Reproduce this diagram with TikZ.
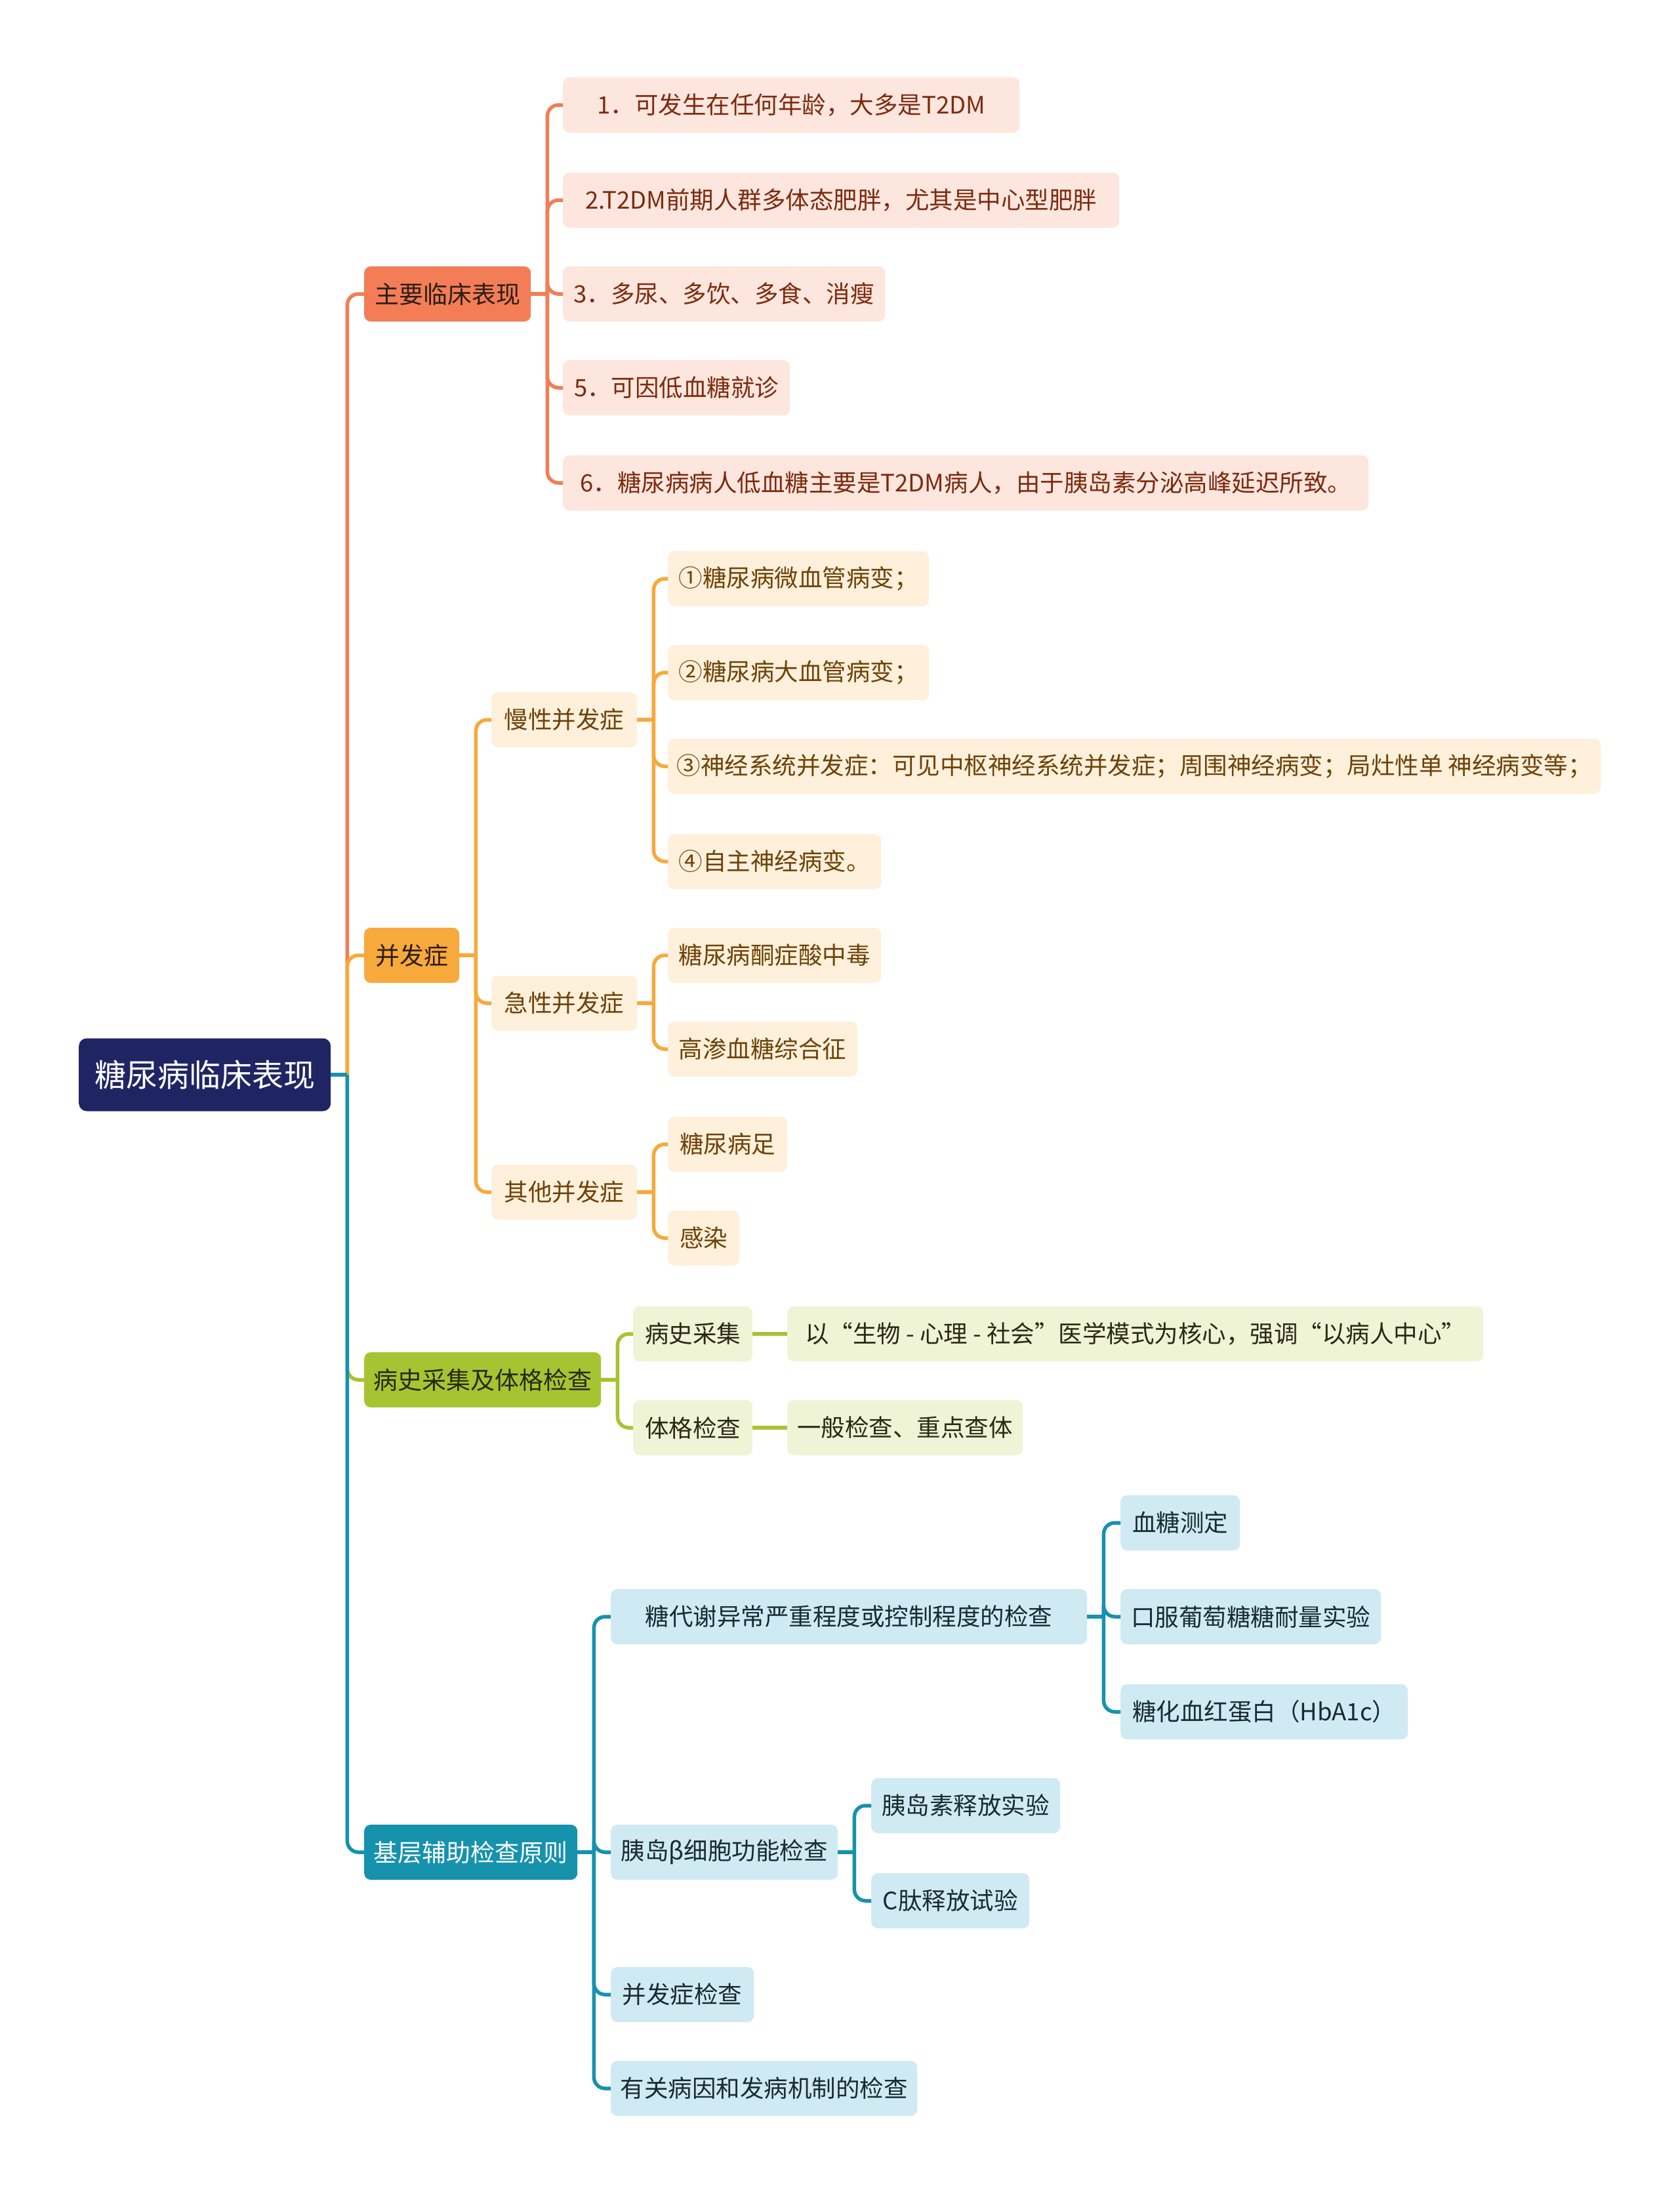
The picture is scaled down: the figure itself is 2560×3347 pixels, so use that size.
\documentclass[tikz,border=0pt]{standalone}
\usepackage{fontspec}
\setmainfont{Noto Sans CJK SC}
\usetikzlibrary{calc}
\definecolor{navy}{RGB}{31,37,99}
\definecolor{salmon}{RGB}{243,125,86}
\definecolor{salmonL}{RGB}{253,230,221}
\definecolor{salmonT}{RGB}{125,42,15}
\definecolor{amber}{RGB}{248,169,59}
\definecolor{amberL}{RGB}{254,240,219}
\definecolor{amberT}{RGB}{110,66,8}
\definecolor{lime}{RGB}{166,196,49}
\definecolor{limeL}{RGB}{239,244,214}
\definecolor{limeT}{RGB}{40,42,20}
\definecolor{teal}{RGB}{22,146,173}
\definecolor{tealL}{RGB}{207,234,242}
\definecolor{tealT}{RGB}{25,42,50}
\definecolor{darkT}{RGB}{45,30,20}
\tikzset{
  box/.style={rounded corners=10pt, minimum height=84pt, inner xsep=0pt, inner ysep=0pt, anchor=west, font=\fontsize{36.5}{42}\selectfont},
  lvone/.style={box, font=\fontsize{37}{42}\selectfont},
  rootbox/.style={rounded corners=12pt, minimum height=111pt, minimum width=384pt, inner xsep=0pt, anchor=west, fill=navy, text=white, font=\fontsize{48}{56}\selectfont},
  sbox/.style={box, fill=salmonL, text=salmonT},
  abox/.style={box, fill=amberL, text=amberT},
  gbox/.style={box, fill=limeL, text=limeT},
  tbox/.style={box, fill=tealL, text=tealT},
  lnS/.style={draw=salmon, line width=5.5pt},
  lnA/.style={draw=amber, line width=5.5pt},
  lnG/.style={draw=lime, line width=5.5pt},
  lnT/.style={draw=teal, line width=5.5pt},
}
\newcommand\mmconn[3]{%
  \draw[#1] (#2.east) -- ($(#2.east)+(25,0)$);
  \draw[#1, rounded corners=17pt] ($(#2.east)+(25,0)$) |- (#3.west);}
\begin{document}
\begin{tikzpicture}[x=1pt,y=-1pt]
\useasboundingbox (0,0) rectangle (2560,3347);
\fill[white] (0,0) rectangle (2560,3347);

% root
\node[rootbox] (root) at (120,1638) {糖尿病临床表现};

% level 1
\node[lvone, fill=salmon, text=darkT, minimum width=254pt] (m1) at (555,448) {主要临床表现};
\node[lvone, fill=amber, text=darkT, minimum width=145pt] (m2) at (555,1456) {并发症};
\node[lvone, fill=lime, text=limeT, minimum width=361pt] (m3) at (555,2103) {病史采集及体格检查};
\node[lvone, fill=teal, text=white, minimum width=325pt] (m4) at (555,2823) {基层辅助检查原则};

% m1 children
\node[sbox, minimum width=696pt] (a1) at (858,160) {1．可发生在任何年龄，大多是T2DM};
\node[sbox, minimum width=848pt] (a2) at (858,305) {2.T2DM前期人群多体态肥胖，尤其是中心型肥胖};
\node[sbox, minimum width=491pt] (a3) at (858,448) {3．多尿、多饮、多食、消瘦};
\node[sbox, minimum width=346pt] (a4) at (858,591) {5．可因低血糖就诊};
\node[sbox, minimum width=1228pt] (a5) at (858,736) {6．糖尿病病人低血糖主要是T2DM病人，由于胰岛素分泌高峰延迟所致。};

% m2 children
\node[abox, minimum width=222pt] (b1) at (749,1097) {慢性并发症};
\node[abox, minimum width=222pt] (b2) at (749,1529) {急性并发症};
\node[abox, minimum width=222pt] (b3) at (749,1817) {其他并发症};

\node[abox, minimum width=398pt] (c1) at (1018,882) {①糖尿病微血管病变；};
\node[abox, minimum width=398pt] (c2) at (1018,1025) {②糖尿病大血管病变；};
\node[abox, minimum width=1422pt] (c3) at (1018,1168) {③神经系统并发症：可见中枢神经系统并发症；周围神经病变；局灶性单 神经病变等；};
\node[abox, minimum width=325pt] (c4) at (1018,1313) {④自主神经病变。};
\node[abox, minimum width=325pt] (c5) at (1018,1456) {糖尿病酮症酸中毒};
\node[abox, minimum width=289pt] (c6) at (1018,1599) {高渗血糖综合征};
\node[abox, minimum width=182pt] (c7) at (1018,1744) {糖尿病足};
\node[abox, minimum width=109pt] (c8) at (1018,1887) {感染};

% m3 children
\node[gbox, minimum width=182pt] (d1) at (965,2033) {病史采集};
\node[gbox, minimum width=182pt] (d2) at (965,2176) {体格检查};
\node[gbox, minimum width=1061pt] (e1) at (1200,2033) {以“生物 - 心理 - 社会”医学模式为核心，强调“以病人中心”};
\node[gbox, minimum width=359pt] (e2) at (1200,2176) {一般检查、重点查体};

% m4 children
\node[tbox, minimum width=726pt] (f1) at (931,2464) {糖代谢异常严重程度或控制程度的检查};
\node[tbox, minimum width=346pt] (f2) at (931,2823) {胰岛β细胞功能检查};
\node[tbox, minimum width=218pt] (f3) at (931,3040) {并发症检查};
\node[tbox, minimum width=467pt] (f4) at (931,3183) {有关病因和发病机制的检查};
\node[tbox, minimum width=182pt] (g1) at (1708,2321) {血糖测定};
\node[tbox, minimum width=397pt] (g2) at (1708,2464) {口服葡萄糖糖耐量实验};
\node[tbox, minimum width=438pt] (g3) at (1708,2609) {糖化血红蛋白（HbA1c）};
\node[tbox, minimum width=288pt] (h1) at (1328,2752) {胰岛素释放实验};
\node[tbox, minimum width=241pt] (h2) at (1328,2897) {C肽释放试验};

% connectors (order matters for overlaps)
\mmconn{lnS}{root}{m1}
\mmconn{lnA}{root}{m2}
\mmconn{lnG}{root}{m3}
\mmconn{lnT}{root}{m4}

\mmconn{lnS}{m1}{a1}
\mmconn{lnS}{m1}{a2}
\mmconn{lnS}{m1}{a3}
\mmconn{lnS}{m1}{a4}
\mmconn{lnS}{m1}{a5}

\mmconn{lnA}{m2}{b1}
\mmconn{lnA}{m2}{b2}
\mmconn{lnA}{m2}{b3}
\mmconn{lnA}{b1}{c1}
\mmconn{lnA}{b1}{c2}
\mmconn{lnA}{b1}{c3}
\mmconn{lnA}{b1}{c4}
\mmconn{lnA}{b2}{c5}
\mmconn{lnA}{b2}{c6}
\mmconn{lnA}{b3}{c7}
\mmconn{lnA}{b3}{c8}

\mmconn{lnG}{m3}{d1}
\mmconn{lnG}{m3}{d2}
\draw[lnG] (d1.east) -- (e1.west);
\draw[lnG] (d2.east) -- (e2.west);

\mmconn{lnT}{m4}{f1}
\mmconn{lnT}{m4}{f2}
\mmconn{lnT}{m4}{f3}
\mmconn{lnT}{m4}{f4}
\mmconn{lnT}{f1}{g1}
\mmconn{lnT}{f1}{g2}
\mmconn{lnT}{f1}{g3}
\mmconn{lnT}{f2}{h1}
\mmconn{lnT}{f2}{h2}
\end{tikzpicture}
\end{document}
